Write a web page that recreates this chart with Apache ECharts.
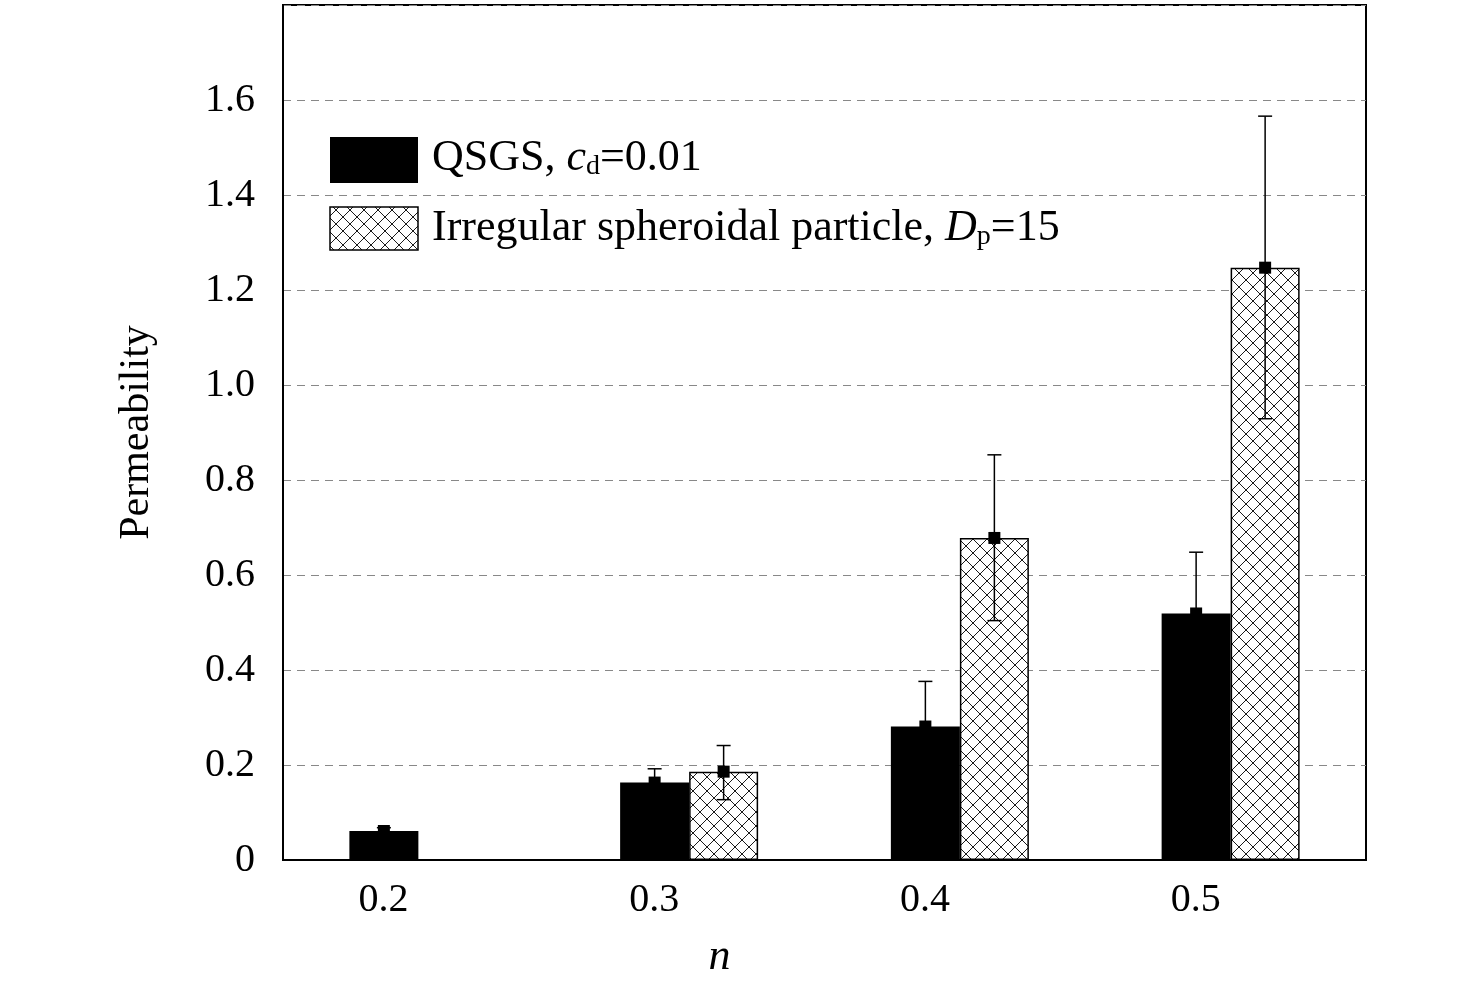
<!DOCTYPE html>
<html>
<head>
<meta charset="utf-8">
<script src="https://cdn.jsdelivr.net/npm/echarts@6/dist/echarts.min.js"></script>
<style>html,body{margin:0;padding:0;background:#fff}#chart{width:1476px;height:993px}</style>
</head>
<body>
<div id="chart"></div>
<script>
const categorias = ['0.2', '0.3', '0.4', '0.5'];
const qsgs = [0.061, 0.163, 0.281, 0.519];
const qsgsAlto = [0.068, 0.192, 0.376, 0.648];
const qsgsBajo = [0.054, 0.134, 0.186, 0.390];
const irregular = [null, 0.186, 0.678, 1.247];
const irregularAlto = [null, 0.241, 0.853, 1.566];
const irregularBajo = [null, 0.127, 0.504, 0.929];

// trama cruzada
function trama() {
    const c = document.createElement('canvas');
    c.width = 14; c.height = 14;
    const g = c.getContext('2d');
    g.fillStyle = '#fff'; g.fillRect(0, 0, 14, 14);
    g.strokeStyle = '#000'; g.lineWidth = 0.9;
    g.beginPath();
    g.moveTo(0, 0); g.lineTo(14, 14);
    g.moveTo(14, 0); g.lineTo(0, 14);
    g.stroke();
    return c;
}
const patron = { image: trama(), repeat: 'repeat' };

const chart = echarts.init(document.getElementById('chart'));
const fuente = 'Liberation Serif';

function errorBar(offset) {
    return function (params, api) {
        const hi = api.value(1), lo = api.value(2);
        if (hi == null || isNaN(hi)) return null;
        const pHi = api.coord([api.value(0), hi]);
        const pLo = api.coord([api.value(0), lo]);
        const pV = api.coord([api.value(0), api.value(3)]);
        const x = pHi[0] + offset;
        const st = { stroke: '#000', lineWidth: 1.5 };
        return {
            type: 'group',
            children: [
                { type: 'line', shape: { x1: x, y1: pHi[1], x2: x, y2: pLo[1] }, style: st },
                { type: 'line', shape: { x1: x - 7, y1: pHi[1], x2: x + 7, y2: pHi[1] }, style: st },
                { type: 'line', shape: { x1: x - 7, y1: pLo[1], x2: x + 7, y2: pLo[1] }, style: st },
                { type: 'rect', shape: { x: x - 6, y: pV[1] - 6, width: 12, height: 12 }, style: { fill: '#000' } }
            ]
        };
    };
}

chart.setOption({
    animation: false,
    grid: { left: 283, right: 110, top: 5, bottom: 133, show: true, borderColor: '#000', borderWidth: 2 },
    xAxis: {
        type: 'category', data: categorias,
        name: 'n', nameLocation: 'middle', nameGap: 75,
        nameTextStyle: { fontFamily: fuente, fontSize: 44, fontStyle: 'italic', color: '#000', padding: [0, 210, 0, 0] },
        axisLine: { lineStyle: { color: '#000', width: 2 } },
        axisTick: { show: false },
        axisLabel: { fontFamily: fuente, fontSize: 40, color: '#000', margin: 20, padding: [0, 70, 0, 0] }
    },
    yAxis: {
        type: 'value', min: 0, max: 1.8, interval: 0.2,
        name: 'Permeability', nameLocation: 'middle', nameGap: 125,
        nameTextStyle: { fontFamily: fuente, fontSize: 42, color: '#000' },
        axisLine: { show: true, lineStyle: { color: '#000', width: 2 } },
        axisTick: { show: false },
        axisLabel: {
            fontFamily: fuente, fontSize: 40, color: '#000', margin: 28,
            formatter: v => v === 0 ? '0' : (Math.abs(v - 1.8) < 1e-6 ? '' : v.toFixed(1))
        },
        splitLine: { lineStyle: { color: '#888', type: [8, 6], width: 1.2 } }
    },
    series: [
        { type: 'bar', data: qsgs, barWidth: 69, barGap: '0%', itemStyle: { color: '#000' } },
        { type: 'bar', data: irregular, barWidth: 69, barGap: '0%', itemStyle: { color: patron, borderColor: '#000', borderWidth: 1.5 } },
        {
            type: 'custom', renderItem: errorBar(-34.5), z: 5,
            data: categorias.map((c, i) => [i, qsgsAlto[i], qsgsBajo[i], qsgs[i]])
        },
        {
            type: 'custom', renderItem: errorBar(34.5), z: 5,
            data: categorias.map((c, i) => [i, irregularAlto[i], irregularBajo[i], irregular[i]])
        }
    ],
    graphic: [
        { type: 'rect', shape: { x: 330, y: 137, width: 88, height: 46 }, style: { fill: '#000' } },
        { type: 'rect', shape: { x: 330, y: 207, width: 88, height: 43 }, style: { fill: patron, stroke: '#000', lineWidth: 1.5 } },
        {
            type: 'text', left: 432, top: 136,
            style: {
                text: '{n|QSGS, }{i|c}{s|d}{n|=0.01}',
                rich: {
                    n: { fontFamily: fuente, fontSize: 44, fill: '#000' },
                    i: { fontFamily: fuente, fontSize: 44, fontStyle: 'italic', fill: '#000' },
                    s: { fontFamily: fuente, fontSize: 28, fill: '#000', padding: [18, 0, 0, 0] }
                }
            }
        },
        {
            type: 'text', left: 432, top: 206,
            style: {
                text: '{n|Irregular spheroidal particle, }{i|D}{s|p}{n|=15}',
                rich: {
                    n: { fontFamily: fuente, fontSize: 44, fill: '#000' },
                    i: { fontFamily: fuente, fontSize: 44, fontStyle: 'italic', fill: '#000' },
                    s: { fontFamily: fuente, fontSize: 28, fill: '#000', padding: [18, 0, 0, 0] }
                }
            }
        }
    ]
});
</script>
</body>
</html>
